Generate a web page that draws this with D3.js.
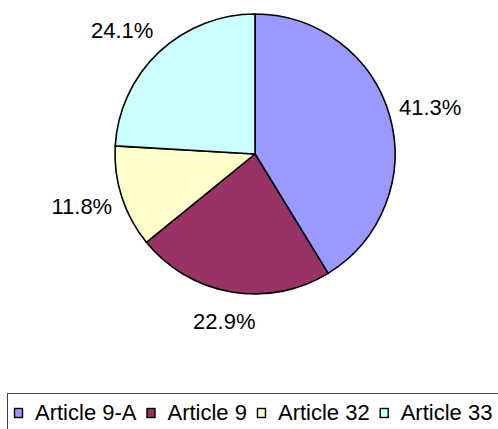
<!DOCTYPE html>
<html><head><meta charset="utf-8">
<script src="https://cdn.jsdelivr.net/npm/d3@7"></script>
<style>html,body{margin:0;padding:0;background:#fff;}svg{display:block;}</style>
</head><body>
<svg id="chart" width="498" height="429"></svg>
<script>
const categories = ["Article 9-A", "Article 9", "Article 32", "Article 33"];
const values = [41.3, 22.9, 11.8, 24.1];
const labels = ["41.3%", "22.9%", "11.8%", "24.1%"];
const colors = ["#9999FF", "#993366", "#FFFFCC", "#CCFFFF"];

const svg = d3.select("#chart");
const cx = 255, cy = 154, r = 140;
const font = "Liberation Sans, Arial, sans-serif";

const pie = d3.pie().value(d => d).sort(null);
const arcs = pie(values);
const arc = d3.arc().innerRadius(0).outerRadius(r);

const g = svg.append("g").attr("transform", `translate(${cx},${cy})`);
g.selectAll("path").data(arcs).join("path")
  .attr("d", arc)
  .attr("fill", (d, i) => colors[i])
  .attr("stroke", "#000")
  .attr("stroke-width", 1.6)
  .attr("stroke-linejoin", "round");

const rx = 182, ry = 170;
g.selectAll("text").data(arcs).join("text")
  .attr("x", d => {
    const a = (d.startAngle + d.endAngle) / 2;
    const s = Math.sin(a);
    return s * rx + (s < 0 && Math.cos(a) > 0 ? -8 : 0);
  })
  .attr("y", d => -Math.cos((d.startAngle + d.endAngle) / 2) * ry)
  .attr("text-anchor", "middle")
  .attr("dominant-baseline", "central")
  .attr("font-family", font)
  .attr("font-size", 22)
  .attr("fill", "#000")
  .text((d, i) => labels[i]);

// Legend
const legend = svg.append("g");
legend.append("rect")
  .attr("x", 7.5).attr("y", 393.5)
  .attr("width", 495).attr("height", 60)
  .attr("fill", "#fff").attr("stroke", "#444").attr("stroke-width", 1);

let x = 14;
categories.forEach((c, i) => {
  legend.append("rect")
    .attr("x", x + 0.5).attr("y", 408.5)
    .attr("width", 8).attr("height", 9)
    .attr("fill", colors[i]).attr("stroke", "#000").attr("stroke-width", 1.4);
  const t = legend.append("text")
    .attr("x", x + 21).attr("y", 420)
    .attr("font-family", font).attr("font-size", 22)
    .attr("fill", "#000").text(c);
  const w = t.node().getComputedTextLength();
  x = x + 21 + w + 10;
});
</script>
</body></html>
